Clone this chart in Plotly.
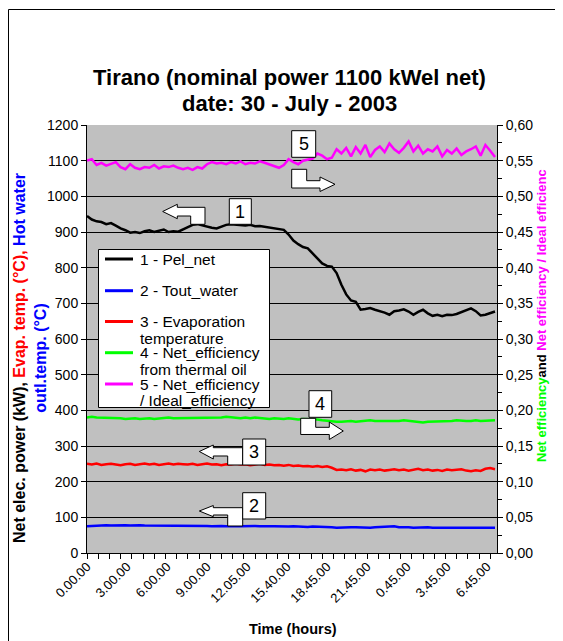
import plotly.graph_objects as go

# ---------------- data ----------------
time_labels = ["0.00.00", "3.00.00", "6.00.00", "9.00.00", "12.05.00", "15.40.00",
               "18.45.00", "21.45.00", "0.45.00", "3.45.00", "6.45.00"]
label_index = [0, 50, 100, 150, 200, 250, 300, 350, 400, 450, 500]

sample_index = [0, 6, 12, 18, 24, 30, 36, 42, 48, 54, 60, 66, 72, 78, 84, 90, 96, 102,
                108, 114, 120, 126, 132, 138, 144, 150, 156, 162, 168, 174, 180, 186,
                192, 198, 204, 210, 216, 222, 228, 234, 240, 246, 252, 258, 264, 270,
                276, 282, 288, 294, 300, 306, 312, 318, 324, 330, 336, 342, 348, 354,
                360, 366, 372, 378, 384, 390, 396, 402, 408, 414, 420, 426, 432, 438,
                444, 450, 456, 462, 468, 474, 480, 486, 492, 498, 504, 510]

pel_net = [945, 935, 930, 928, 922, 925, 918, 910, 905, 898, 900, 897, 902, 905, 900,
           903, 907, 900, 902, 901, 908, 915, 920, 922, 918, 915, 912, 910, 915, 920,
           922, 921, 920, 918, 920, 916, 917, 915, 912, 912, 910, 906, 893, 876, 866,
           858, 854, 840, 828, 812, 805, 803, 785, 752, 725, 708, 704, 682, 684, 687,
           682, 679, 674, 668, 678, 680, 683, 677, 668, 676, 682, 672, 665, 668, 664,
           668, 667, 670, 676, 680, 686, 678, 666, 668, 672, 677]

tout_water = [75, 76, 75, 77, 78, 77, 78, 79, 78, 77, 78, 78, 77, 77, 78, 77, 77, 76,
              77, 77, 76, 77, 76, 76, 77, 76, 75, 76, 76, 75, 76, 76, 75, 76, 75, 76,
              75, 76, 75, 75, 74, 75, 74, 75, 74, 74, 73, 74, 74, 73, 73, 72, 71, 72,
              71, 72, 72, 71, 72, 71, 72, 73, 72, 73, 75, 72, 73, 72, 71, 72, 71, 72,
              71, 71, 72, 71, 72, 71, 71, 72, 71, 71, 72, 71, 71, 71]

evap_temp = [250, 248, 251, 247, 249, 250, 248, 246, 249, 250, 247, 249, 251, 248, 250,
             247, 249, 251, 248, 250, 249, 248, 250, 247, 249, 251, 248, 249, 246, 249,
             248, 250, 248, 249, 246, 248, 250, 247, 248, 246, 247, 245, 247, 244, 245,
             243, 244, 242, 244, 241, 243, 239, 233, 234, 232, 235, 231, 233, 229, 234,
             232, 234, 231, 233, 235, 232, 234, 231, 233, 236, 232, 234, 231, 233, 230,
             234, 232, 233, 235, 231, 229, 232, 230, 236, 238, 235]

net_eff_oil = [0.190, 0.191, 0.190, 0.190, 0.189, 0.190, 0.189, 0.189, 0.188, 0.189,
               0.189, 0.188, 0.189, 0.189, 0.188, 0.189, 0.189, 0.190, 0.189, 0.189,
               0.189, 0.190, 0.190, 0.189, 0.190, 0.190, 0.189, 0.190, 0.190, 0.191,
               0.190, 0.190, 0.189, 0.190, 0.189, 0.190, 0.189, 0.189, 0.188, 0.189,
               0.188, 0.188, 0.189, 0.188, 0.187, 0.188, 0.188, 0.187, 0.187, 0.186,
               0.185, 0.185, 0.184, 0.184, 0.185, 0.185, 0.184, 0.185, 0.185, 0.186,
               0.185, 0.185, 0.185, 0.184, 0.185, 0.185, 0.186, 0.185, 0.184, 0.184,
               0.183, 0.184, 0.184, 0.185, 0.184, 0.185, 0.185, 0.186, 0.185, 0.185,
               0.185, 0.186, 0.185, 0.185, 0.186, 0.186]

eff_ratio = [0.550, 0.552, 0.544, 0.547, 0.543, 0.546, 0.548, 0.541, 0.538, 0.545,
             0.540, 0.538, 0.541, 0.540, 0.544, 0.539, 0.542, 0.541, 0.543, 0.540,
             0.538, 0.540, 0.537, 0.541, 0.539, 0.545, 0.548, 0.546, 0.547, 0.545,
             0.548, 0.546, 0.549, 0.545, 0.547, 0.546, 0.549, 0.547, 0.545, 0.542,
             0.540, 0.544, 0.552, 0.548, 0.545, 0.550, 0.551, 0.553, 0.560, 0.557,
             0.552, 0.554, 0.566, 0.560, 0.568, 0.556, 0.569, 0.560, 0.572, 0.555,
             0.565, 0.570, 0.562, 0.574, 0.566, 0.561, 0.568, 0.577, 0.563, 0.571,
             0.560, 0.566, 0.563, 0.570, 0.556, 0.565, 0.560, 0.567, 0.558, 0.563,
             0.566, 0.570, 0.557, 0.572, 0.564, 0.555]

left_ticks = [0, 100, 200, 300, 400, 500, 600, 700, 800, 900, 1000, 1100, 1200]
right_ticks = [0.0, 0.05, 0.10, 0.15, 0.20, 0.25, 0.30, 0.35, 0.40, 0.45, 0.50, 0.55, 0.60]
right_tick_text = ["0,00", "0,05", "0,10", "0,15", "0,20", "0,25", "0,30", "0,35",
                   "0,40", "0,45", "0,50", "0,55", "0,60"]

legend_names = ["1 - Pel_net", "2 - Tout_water", "3 - Evaporation", "4 - Net_efficiency",
                "5 - Net_efficiency"]
legend_second = ["", "", "temperature", "from thermal oil", "/ Ideal_efficiency"]

# ---------------- geometry helpers ----------------
# the page body adds an 8px offset; all coordinates below are screen pixels
W, H = 563, 641
OFF = 8
PL, PR, PT, PB = 87, 497, 125, 553          # plot area on screen
L, T = PL - OFF, PT - OFF
R, B = W - (PR - OFF), H - (PB - OFF)
PW, PH = PR - PL, PB - PT
FONT = "Arial, Liberation Sans, sans-serif"
BLACK, BLUE, RED, GREEN, MAGENTA = "#000000", "#0000FF", "#FF0000", "#00FF00", "#FF00FF"


def px(x):
    return (x - PL) / PW


def py(y):
    return (PB - y) / PH


def path(points):
    return "M " + " L ".join(f"{px(a):.5f},{py(b):.5f}" for a, b in points) + " Z"


fig = go.Figure()
fig.add_trace(go.Scatter(x=sample_index, y=tout_water, mode="lines",
                         line=dict(color=BLUE, width=2.5), name="2 - Tout_water"))
fig.add_trace(go.Scatter(x=sample_index, y=evap_temp, mode="lines",
                         line=dict(color=RED, width=2.5), name="3 - Evaporation temperature"))
fig.add_trace(go.Scatter(x=sample_index, y=pel_net, mode="lines",
                         line=dict(color=BLACK, width=2.5), name="1 - Pel_net"))
fig.add_trace(go.Scatter(x=sample_index, y=net_eff_oil, mode="lines", yaxis="y2",
                         line=dict(color=GREEN, width=2.5), name="4 - Net_efficiency"))
fig.add_trace(go.Scatter(x=sample_index, y=eff_ratio, mode="lines", yaxis="y2",
                         line=dict(color=MAGENTA, width=2.5), name="5 - Net_efficiency"))

shapes = []
annotations = []

# outer chart border (top and left visible)
shapes.append(dict(type="line", xref="paper", yref="paper", x0=px(8.5), y0=py(9.5),
                   x1=px(571), y1=py(9.5), line=dict(color=BLACK, width=1)))
shapes.append(dict(type="line", xref="paper", yref="paper", x0=px(8.5), y0=py(9.5),
                   x1=px(8.5), y1=py(649), line=dict(color=BLACK, width=1)))

# legend box (drawn manually)
shapes.append(dict(type="rect", xref="paper", yref="paper", x0=px(98.5), y0=py(249.5),
                   x1=px(269.5), y1=py(407.5), fillcolor="white",
                   line=dict(color=BLACK, width=1), layer="above"))
leg_colors = [BLACK, BLUE, RED, GREEN, MAGENTA]
leg_y = [259, 290.7, 321.5, 352.7, 384]
for name, second, col, yy in zip(legend_names, legend_second, leg_colors, leg_y):
    shapes.append(dict(type="line", xref="paper", yref="paper", x0=px(105), y0=py(yy),
                       x1=px(133), y1=py(yy), line=dict(color=col, width=3), layer="above"))
    annotations.append(dict(text=name, xref="paper", yref="paper", x=px(138), y=py(yy),
                            xanchor="left", yanchor="middle", showarrow=False,
                            font=dict(family=FONT, size=15.5, color=BLACK)))
    if second:
        annotations.append(dict(text=second, xref="paper", yref="paper", x=px(138),
                                y=py(yy + 16.5), xanchor="left", yanchor="middle",
                                showarrow=False,
                                font=dict(family=FONT, size=15.5, color=BLACK)))

# callouts: (label, box corners, arrow polygon) in screen pixels
callouts = [
    ("5", (291.7, 130.7, 315.7, 157.3),
     [(291.7, 169.3), (306.7, 169.3), (306.7, 180.7), (320, 180.7), (320, 177),
      (335, 184.3), (320, 191.5), (320, 188), (291.7, 188)]),
    ("1", (229.3, 198.7, 251.3, 224.3),
     [(162.7, 211.5), (177.3, 204.3), (177.3, 207.3), (205, 207.3), (205, 224.3),
      (190.7, 224.3), (190.7, 216), (177.3, 216), (177.3, 218.7)]),
    ("4", (309, 390.7, 331.7, 417.3),
     [(300.7, 418.3), (315.7, 418.3), (315.7, 427.3), (329.3, 427.3), (329.3, 422),
      (343.3, 431), (329.3, 439.5), (329.3, 434.5), (300.7, 434.5)]),
    ("3", (242.7, 439, 265.7, 465),
     [(199.3, 451.5), (213.3, 445), (213.3, 447.7), (242.7, 447.7), (242.7, 465),
      (227.7, 465), (227.7, 456), (213.3, 456), (213.3, 459)]),
    ("2", (242.7, 492.7, 265.7, 519),
     [(199.3, 511), (213.3, 505.5), (213.3, 507.7), (242.7, 507.7), (242.7, 526),
      (227.7, 526), (227.7, 515), (213.3, 515), (213.3, 516.7)]),
]
for lab, (x0, y0, x1, y1), poly in callouts:
    shapes.append(dict(type="path", xref="paper", yref="paper", path=path(poly),
                       fillcolor="white", line=dict(color=BLACK, width=1), layer="above"))
    shapes.append(dict(type="rect", xref="paper", yref="paper", x0=px(x0), y0=py(y0),
                       x1=px(x1), y1=py(y1), fillcolor="white",
                       line=dict(color=BLACK, width=1), layer="above"))
    annotations.append(dict(text=lab, xref="paper", yref="paper", x=px((x0 + x1) / 2),
                            y=py((y0 + y1) / 2), xanchor="center", yanchor="middle",
                            showarrow=False, font=dict(family=FONT, size=18, color=BLACK)))

# titles
annotations.append(dict(text="<b>Tirano (nominal power 1100 kWel net)</b>", xref="paper",
                        yref="paper", x=px(289), y=py(77), xanchor="center",
                        yanchor="middle", showarrow=False,
                        font=dict(family=FONT, size=22, color=BLACK)))
annotations.append(dict(text="<b>date: 30 - July - 2003</b>", xref="paper",
                        yref="paper", x=px(289), y=py(103), xanchor="center",
                        yanchor="middle", showarrow=False,
                        font=dict(family=FONT, size=22, color=BLACK)))
annotations.append(dict(text="<b>Time (hours)</b>", xref="paper", yref="paper",
                        x=px(292.5), y=py(629), xanchor="center", yanchor="middle",
                        showarrow=False, font=dict(family=FONT, size=14.5, color=BLACK)))
annotations.append(dict(
    text=("<b><span style='color:#000000'>Net elec. power (kW), </span>"
          "<span style='color:#FF0000'>Evap. temp. (°C), </span>"
          "<span style='color:#0000FF'>Hot water</span><br>"
          "<span style='color:#0000FF'>outl.temp. (°C)</span></b>"),
    xref="paper", yref="paper", x=px(30), y=py(358), xanchor="center", yanchor="middle",
    textangle=-90, showarrow=False, font=dict(family=FONT, size=16, color=BLACK)))
annotations.append(dict(
    text=("<b><span style='color:#00FF00'>Net efficiency</span>"
          "<span style='color:#000000'>and </span>"
          "<span style='color:#FF00FF'>Net efficiency / Ideal efficienc</span></b>"),
    xref="paper", yref="paper", x=px(541), y=py(316), xanchor="center", yanchor="middle",
    textangle=-90, showarrow=False, font=dict(family=FONT, size=13, color=BLACK)))

fig.update_layout(
    width=W, height=H, margin=dict(l=L, r=R, t=T, b=B, pad=0),
    paper_bgcolor="white", plot_bgcolor="#C0C0C0", showlegend=False,
    font=dict(family=FONT, size=13, color=BLACK),
    xaxis=dict(range=[0, 512.5], tickmode="array", tickvals=label_index,
               ticktext=time_labels, tickangle=-45, ticks="", showgrid=False,
               zeroline=False, showline=True, linecolor=BLACK, linewidth=1,
               tickfont=dict(size=13),
               minor=dict(tickmode="linear", tick0=0, dtick=14, ticks="outside",
                          ticklen=5, tickcolor=BLACK, showgrid=False)),
    yaxis=dict(range=[0, 1200], tickmode="array", tickvals=left_ticks, ticks="outside",
               ticklen=5, tickcolor=BLACK, showgrid=True, gridcolor=BLACK, gridwidth=1,
               zeroline=False, showline=True, linecolor=BLACK, linewidth=1,
               tickfont=dict(size=14)),
    yaxis2=dict(range=[0, 0.6], overlaying="y", side="right", tickmode="array",
                tickvals=right_ticks, ticktext=right_tick_text, ticks="outside",
                ticklen=5, tickcolor=BLACK, showgrid=False, zeroline=False,
                showline=True, linecolor=BLACK, linewidth=1, tickfont=dict(size=14),
                minor=dict(tickmode="linear", tick0=0, dtick=0.025, ticks="outside",
                           ticklen=4, tickcolor=BLACK, showgrid=False)),
    shapes=shapes, annotations=annotations,
)

fig.write_html("out.html")
